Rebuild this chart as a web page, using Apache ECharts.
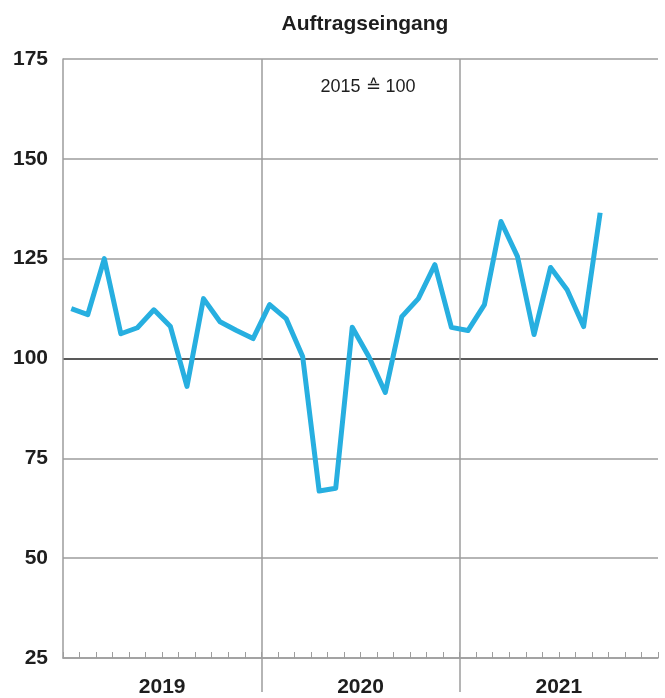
<!DOCTYPE html>
<html>
<head>
<meta charset="utf-8">
<script src="https://cdn.jsdelivr.net/npm/echarts@6/dist/echarts.min.js"></script>
<style>
  html, body { margin: 0; padding: 0; background: #fff; }
  #chart { width: 665px; height: 698px; }
</style>
</head>
<body>
<div id="chart"></div>
<script>
'use strict';

var years = ['2019', '2020', '2021'];
var months = ['01', '02', '03', '04', '05', '06', '07', '08', '09', '10', '11', '12'];
// Auftragseingang, 2015 = 100, Jan 2019 .. Sep 2021
var values = [
  112.5, 111, 125, 106.2, 107.7, 112.2, 108, 93, 115, 109.2, 107, 105,
  113.5, 110, 100.5, 66.8, 67.5, 107.8, 100.5, 91.5, 110.5, 115, 123.5, 107.8,
  107, 113.5, 134.3, 125.5, 106, 122.8, 117.2, 108, 136.5
];
var yTicks = [25, 50, 75, 100, 125, 150, 175];

var categories = [];
years.forEach(function (y) {
  months.forEach(function (m) { categories.push(y + '-' + m); });
});

var font = 'Liberation Sans';
var gray = '#9d9d9d';
var ink = '#1e1e1e';

var chartDom = document.getElementById('chart');
var myChart = echarts.init(chartDom, null, {renderer: 'canvas'});

var option = {
  animation: false,
  textStyle: {fontFamily: font},
  title: [
    {
      text: 'Auftragseingang',
      left: 360,
      top: 9,
      textAlign: 'center',
      textStyle: {fontFamily: font, fontSize: 21, fontWeight: 'bold', color: ink}
    },
    {
      text: '2015 \u2259 100',
      left: 363,
      top: 73,
      textAlign: 'center',
      textStyle: {fontFamily: font, fontSize: 18, fontWeight: 'normal', color: ink}
    }
  ],
  grid: {left: 63, right: 7, top: 59, bottom: 40},
  xAxis: [
    {
      type: 'category',
      data: categories,
      boundaryGap: true,
      axisLine: {show: true, lineStyle: {color: gray, width: 1.5}},
      axisTick: {show: true, inside: true, length: 6, interval: 0, lineStyle: {color: gray, width: 1}},
      axisLabel: {show: false},
      splitLine: {show: false}
    },
    {
      type: 'value',
      min: 0,
      max: years.length * 12,
      position: 'bottom',
      axisLine: {show: false},
      axisTick: {
        show: true,
        customValues: years.slice(1).map(function (y, i) { return (i + 1) * 12; }),
        length: 34,
        lineStyle: {color: gray, width: 1.5}
      },
      axisLabel: {
        show: true,
        customValues: years.map(function (y, i) { return i * 12 + 6; }),
        formatter: function (v) { return years[(v - 6) / 12]; },
        margin: 19,
        fontFamily: font,
        fontSize: 21,
        fontWeight: 'bold',
        color: ink
      },
      splitLine: {show: true, lineStyle: {color: gray, width: 1.5}}
    }
  ],
  yAxis: {
    type: 'value',
    min: 25,
    max: 175,
    interval: 25,
    axisLine: {show: true, lineStyle: {color: gray, width: 1.5}},
    axisTick: {show: false},
    axisLabel: {
      margin: 15,
      fontFamily: font,
      fontSize: 21,
      fontWeight: 'bold',
      color: ink
    },
    splitLine: {
      show: true,
      lineStyle: {
        width: 1.5,
        color: yTicks.map(function (t) { return t === 100 ? '#222' : gray; })
      }
    }
  },
  series: [
    {
      type: 'line',
      xAxisIndex: 0,
      data: values,
      showSymbol: false,
      symbol: 'none',
      lineStyle: {color: '#27afe0', width: 5, join: 'round'},
      itemStyle: {color: '#27afe0'}
    }
  ]
};

myChart.setOption(option);
</script>
</body>
</html>
